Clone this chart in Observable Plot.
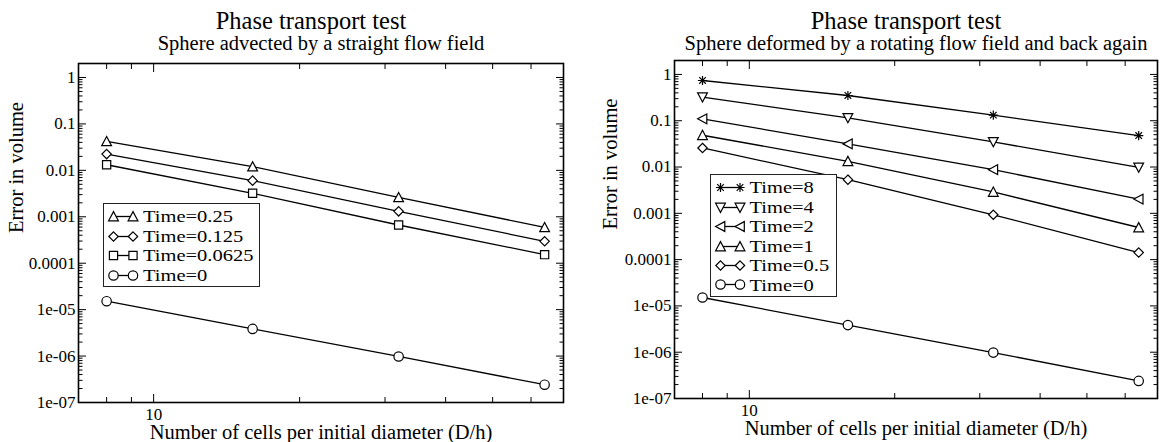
<!DOCTYPE html>
<html>
<head>
<meta charset="utf-8">
<script src="https://cdn.jsdelivr.net/npm/d3@7"></script>
<script src="https://cdn.jsdelivr.net/npm/@observablehq/plot@0.6"></script>
<style>
  html, body { margin: 0; padding: 0; background: #fff; }
  #root { position: relative; width: 1161px; height: 442px; background: #fff; font-family: "Liberation Serif", "Times New Roman", serif; overflow: hidden; }
  .panel { position: absolute; top: 0; }
  .legend { position: absolute; border: 1px solid #222; background: #fff; box-sizing: border-box; padding-top: 3px; font-size: 20.5px; color: #000; }
  .legend .row { display: flex; align-items: center; height: 19.45px; white-space: nowrap; }
  .legend .row span { display: inline-block; line-height: 1; transform: scaleY(0.84); transform-origin: 50% 50%; }
  .legend svg { flex: none; }
</style>
</head>
<body>
<div id="root">
  <div id="left" class="panel" style="left:0px;width:580px;height:442px"></div>
  <div id="right" class="panel" style="left:580px;width:581px;height:442px"></div>
</div>
<script>
// ---------- data ----------
const cells = [8, 16, 32, 64];

const leftTitle = "Phase transport test";
const leftSubtitle = "Sphere advected by a straight flow field";
const leftLabels = ["Time=0.25", "Time=0.125", "Time=0.0625", "Time=0"];
const leftT025 = [0.042, 0.0120, 0.00262, 0.00059];
const leftT0125 = [0.0224, 0.0060, 0.00131, 0.000296];
const leftT00625 = [0.0132, 0.0032, 0.000665, 0.000153];
const leftT0 = [1.52e-5, 3.85e-6, 9.8e-7, 2.42e-7];

const rightTitle = "Phase transport test";
const rightSubtitle = "Sphere deformed by a rotating flow field and back again";
const rightLabels = ["Time=8", "Time=4", "Time=2", "Time=1", "Time=0.5", "Time=0"];
const rightT8 = [0.74, 0.351, 0.132, 0.0478];
const rightT4 = [0.323, 0.115, 0.0349, 0.00985];
const rightT2 = [0.110, 0.0316, 0.00877, 0.00203];
const rightT1 = [0.0486, 0.0133, 0.00289, 0.000494];
const rightT05 = [0.0258, 0.00533, 0.00093, 0.000142];
const rightT0 = [1.52e-5, 3.85e-6, 9.8e-7, 2.4e-7];

const xLabel = "Number of cells per initial diameter (D/h)";
const yLabel = "Error in volume";
const xMajorTicks = [10];
const xMajorTickLabels = ["10"];
const xMinorTicks = [8, 9, 20, 30, 40, 50, 60];
const yMajorTicks = [1, 0.1, 0.01, 0.001, 0.0001, 1e-5, 1e-6, 1e-7];
const yMajorTickLabels = ["1", "0.1", "0.01", "0.001", "0.0001", "1e-05", "1e-06", "1e-07"];
const yDecades = [1e-7, 1e-6, 1e-5, 1e-4, 1e-3, 1e-2, 1e-1];
const yMinorMultipliers = [2, 3, 4, 5, 6, 7, 8, 9];
const yMinorTicks = yDecades.flatMap(dec => yMinorMultipliers.map(m => +(m * dec).toPrecision(3)));

// ---------- symbols (Grace-like) ----------
const S = {
  circle: {draw(c) { c.moveTo(4.7, 0); c.arc(0, 0, 4.7, 0, 2 * Math.PI); c.closePath(); }},
  square: {draw(c) { c.moveTo(-4.1, -4.1); c.lineTo(4.1, -4.1); c.lineTo(4.1, 4.1); c.lineTo(-4.1, 4.1); c.closePath(); }},
  diamond: {draw(c) { c.moveTo(0, -4.7); c.lineTo(4.7, 0); c.lineTo(0, 4.7); c.lineTo(-4.7, 0); c.closePath(); }},
  triUp: {draw(c) { c.moveTo(0, -4.9); c.lineTo(4.9, 4.3); c.lineTo(-4.9, 4.3); c.closePath(); }},
  triDown: {draw(c) { c.moveTo(0, 4.9); c.lineTo(4.9, -4.3); c.lineTo(-4.9, -4.3); c.closePath(); }},
  triLeft: {draw(c) { c.moveTo(-4.9, 0); c.lineTo(4.3, -4.9); c.lineTo(4.3, 4.9); c.closePath(); }},
  star: {draw(c) { const s = 4.6, d = 3.3; c.moveTo(-s, 0); c.lineTo(s, 0); c.moveTo(0, -s); c.lineTo(0, s); c.moveTo(-d, -d); c.lineTo(d, d); c.moveTo(-d, d); c.lineTo(d, -d); }}
};

const leftSeries = [
  {label: leftLabels[0], values: leftT025, symbol: S.triUp},
  {label: leftLabels[1], values: leftT0125, symbol: S.diamond},
  {label: leftLabels[2], values: leftT00625, symbol: S.square},
  {label: leftLabels[3], values: leftT0, symbol: S.circle}
];
const rightSeries = [
  {label: rightLabels[0], values: rightT8, symbol: S.star},
  {label: rightLabels[1], values: rightT4, symbol: S.triDown},
  {label: rightLabels[2], values: rightT2, symbol: S.triLeft},
  {label: rightLabels[3], values: rightT1, symbol: S.triUp},
  {label: rightLabels[4], values: rightT05, symbol: S.diamond},
  {label: rightLabels[5], values: rightT0, symbol: S.circle}
];

const yLabelMap = new Map(yMajorTicks.map((v, i) => [v, yMajorTickLabels[i]]));
const xLabelMap = new Map(xMajorTicks.map((v, i) => [v, xMajorTickLabels[i]]));

function panel(el, cfg) {
  const {width, height, mLeft, mRight, mTop, mBottom, series, title, subtitle, titleDy, subDy, xLabDy, yLabDx, legend} = cfg;
  const marks = [];
  for (const s of series) {
    const rows = cells.map((n, i) => ({n, err: s.values[i], series: s.label}));
    marks.push(Plot.line(rows, {x: "n", y: "err", stroke: "black", strokeWidth: 1.3}));
  }
  for (const s of series) {
    const rows = cells.map((n, i) => ({n, err: s.values[i], series: s.label}));
    marks.push(Plot.dot(rows, {x: "n", y: "err", symbol: s.symbol, r: 5, fill: "white", stroke: "black", strokeWidth: 1.2}));
  }
  const none = () => "";
  const chart = Plot.plot({
    width, height,
    marginLeft: mLeft, marginRight: mRight, marginTop: mTop, marginBottom: mBottom,
    style: {fontFamily: '"Liberation Serif", "Times New Roman", serif', fontSize: "17px", color: "black", background: "white", overflow: "visible"},
    x: {type: "log", domain: [7, 70]},
    y: {type: "log", domain: [1e-7, 2]},
    marks: [
      Plot.axisY({anchor: "left", ticks: yMajorTicks, tickSize: -8, tickPadding: 11, tickFormat: d => yLabelMap.get(d), label: null, fontSize: 17}),
      Plot.axisY({anchor: "left", ticks: yMinorTicks, tickSize: -4.5, tickFormat: none, label: null}),
      Plot.axisY({anchor: "right", ticks: yMajorTicks, tickSize: -8, tickFormat: none, label: null}),
      Plot.axisY({anchor: "right", ticks: yMinorTicks, tickSize: -4.5, tickFormat: none, label: null}),
      Plot.axisX({anchor: "bottom", ticks: xMajorTicks, tickSize: -8, tickPadding: 13, tickFormat: d => xLabelMap.get(d), label: null, fontSize: 17}),
      Plot.axisX({anchor: "bottom", ticks: xMinorTicks, tickSize: -5, tickFormat: none, label: null}),
      Plot.axisX({anchor: "top", ticks: xMajorTicks, tickSize: -8, tickFormat: none, label: null}),
      Plot.axisX({anchor: "top", ticks: xMinorTicks, tickSize: -5, tickFormat: none, label: null}),
      ...marks,
      Plot.frame({stroke: "black", strokeWidth: 1.6}),
      Plot.text([title], {frameAnchor: "top", text: d => d, dy: titleDy, dx: -10, lineAnchor: "bottom", fontSize: 24.5}),
      Plot.text([subtitle], {frameAnchor: "top", text: d => d, dy: subDy, lineAnchor: "bottom", fontSize: 20.5}),
      Plot.text([xLabel], {frameAnchor: "bottom", text: d => d, dy: xLabDy, lineAnchor: "bottom", fontSize: 20.5}),
      Plot.text([yLabel], {frameAnchor: "left", text: d => d, dx: yLabDx, rotate: -90, lineAnchor: "middle", fontSize: 20.5})
    ]
  });
  el.appendChild(chart);

  const box = document.createElement("div");
  box.className = "legend";
  Object.assign(box.style, {left: legend.left + "px", top: legend.top + "px", width: legend.width + "px", height: legend.height + "px"});
  for (const s of series) {
    const row = document.createElement("div");
    row.className = "row";
    const svg = d3.create("svg").attr("width", 39).attr("height", 19);
    svg.append("line").attr("x1", 9.5).attr("x2", 29).attr("y1", 9.5).attr("y2", 9.5).attr("stroke", "black").attr("stroke-width", 1.3);
    for (const cx of [9.5, 29]) {
      svg.append("path").attr("d", d3.symbol(s.symbol)()).attr("transform", `translate(${cx},9.5)`)
        .attr("fill", "white").attr("stroke", "black").attr("stroke-width", 1.2);
    }
    row.appendChild(svg.node());
    const t = document.createElement("span");
    t.textContent = s.label;
    row.appendChild(t);
    box.appendChild(row);
  }
  el.appendChild(box);
}

panel(document.getElementById("left"), {
  width: 580, height: 442, mLeft: 78, mRight: 17, mTop: 63, mBottom: 40,
  series: leftSeries, title: leftTitle, subtitle: leftSubtitle,
  titleDy: -34.5, subDy: -13.5, xLabDy: 36.5, yLabDx: -62,
  legend: {left: 103, top: 203, width: 157, height: 84}
});
panel(document.getElementById("right"), {
  width: 581, height: 442, mLeft: 94, mRight: 4, mTop: 60, mBottom: 44,
  series: rightSeries, title: rightTitle, subtitle: rightSubtitle,
  titleDy: -31.7, subDy: -10.7, xLabDy: 36.7, yLabDx: -64,
  legend: {left: 129.5, top: 174, width: 127.5, height: 123}
});
</script>
</body>
</html>
